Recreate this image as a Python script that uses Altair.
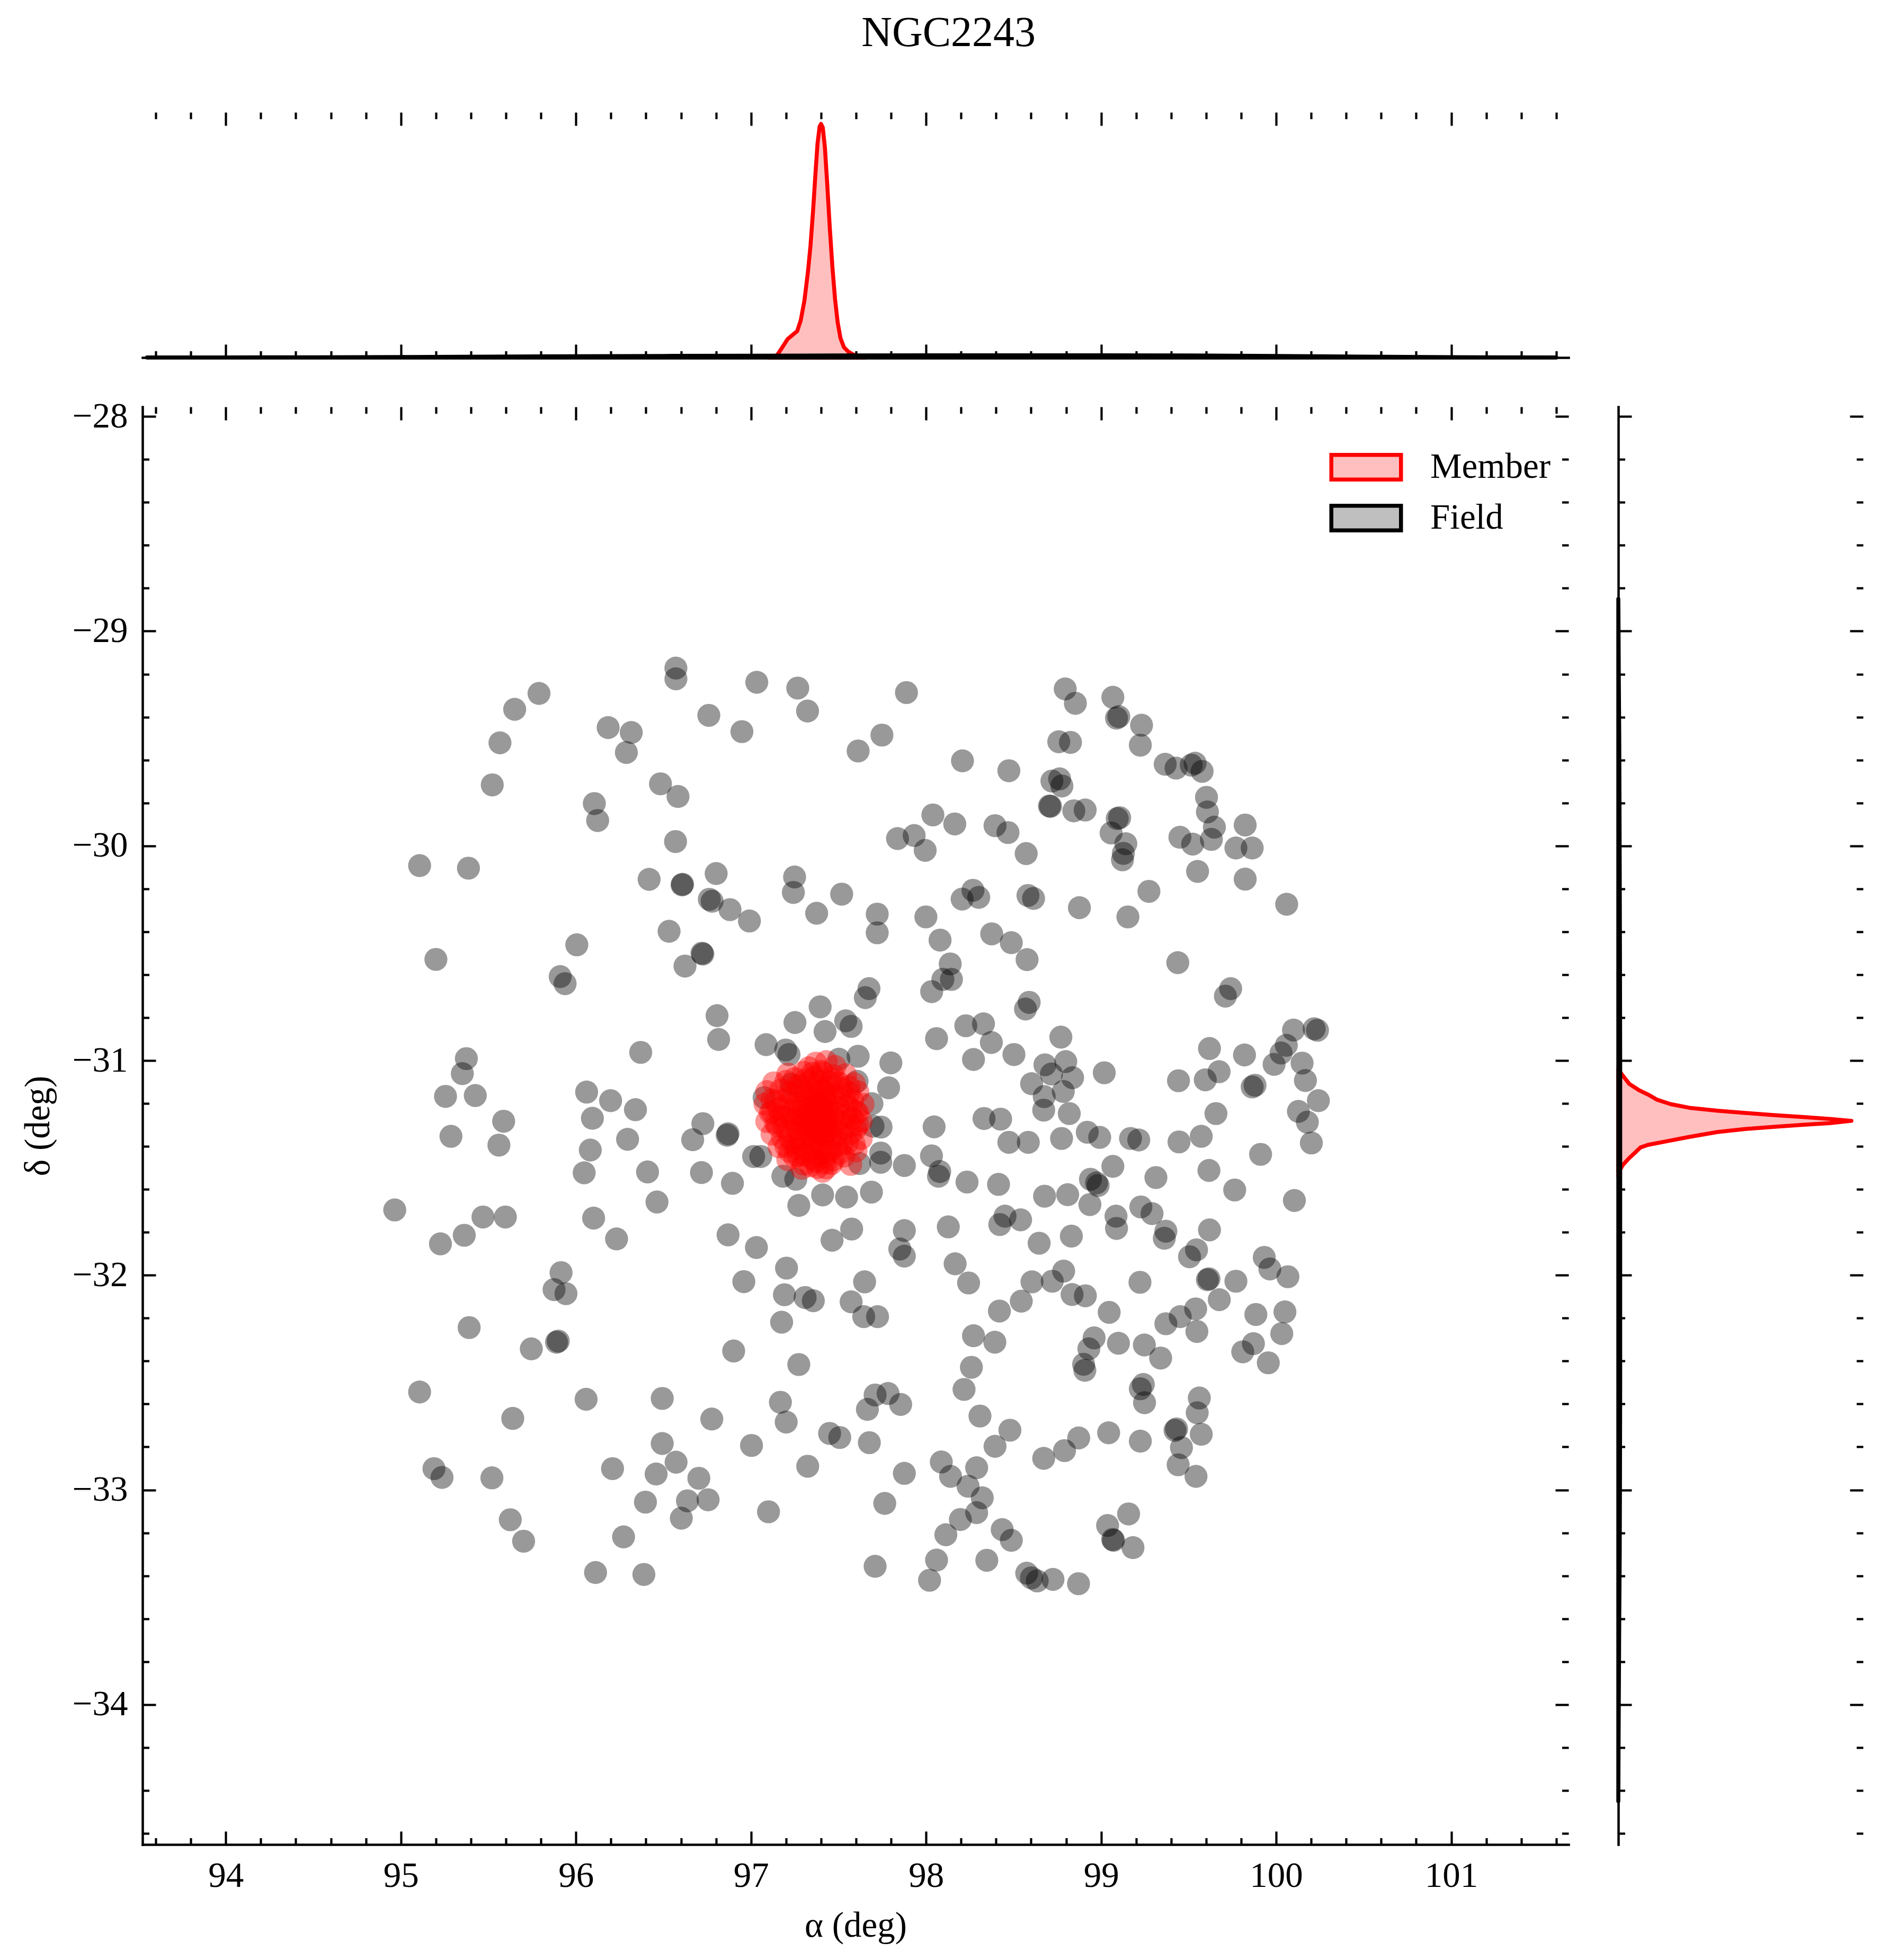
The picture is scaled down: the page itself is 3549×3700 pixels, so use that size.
import altair as alt
import pandas as pd

FONT = "Liberation Serif"
FS = 67

# ---------------- data ----------------
field_ra = [96.571, 96.571, 97.033, 97.267, 97.323, 95.789, 95.650, 95.566, 95.522, 96.184, 96.316, 96.288,
            96.759, 96.948, 96.483, 96.583, 96.105, 96.124, 96.569, 95.107, 95.386, 96.418, 96.609, 96.606,
            96.801, 96.762, 96.778, 96.880, 96.991, 97.249, 97.242, 97.375, 97.518, 96.532, 96.720, 96.725,
            96.623, 96.005, 95.910, 95.938, 95.200, 96.806, 96.815, 96.370, 97.395, 97.251, 97.423, 97.541,
            97.572, 97.086, 97.198, 97.217, 97.502, 95.374, 95.351, 95.255, 95.425, 95.587, 96.061, 96.198,
            96.094, 96.340, 96.725, 97.075,
            97.888, 97.748, 97.612, 98.795, 98.853, 99.067, 99.088, 99.101, 99.231, 99.224, 98.758, 98.825,
            98.208, 98.473, 99.366, 99.428, 99.515, 99.537, 99.577, 98.719, 98.763, 98.776, 98.711, 98.705,
            98.844, 98.909, 99.602, 99.607, 99.647, 99.630, 99.450, 99.523, 99.823, 99.770, 99.863, 99.551,
            99.823, 100.060, 99.106, 99.092, 99.057, 99.141, 99.127, 99.122, 99.273, 99.153, 98.876, 98.039,
            98.164, 97.837, 97.932, 97.995, 98.394, 98.468, 98.572, 98.268, 98.301, 98.206, 98.582, 98.614,
            97.721, 97.721, 97.999, 98.080, 98.375, 98.487, 98.577, 98.138, 98.096, 98.145, 98.032, 99.438,
            99.740, 99.710, 97.674, 97.653, 98.589, 98.568, 97.612, 98.227, 98.328, 98.373, 98.060, 98.271,
            98.502, 98.770, 98.679, 98.798, 98.837, 98.716, 98.784, 98.675, 98.603, 98.818, 98.672, 99.018,
            97.799, 97.786, 97.691, 99.619, 99.819, 99.674, 99.595, 99.442, 100.099, 100.217, 100.236, 100.058,
            100.028, 99.988, 100.148, 100.167, 99.863, 99.879, 100.241, 100.127, 100.178, 99.656, 98.331, 98.426,
            98.046, 97.743, 97.697,
            95.286, 95.560, 96.082, 96.295, 96.047, 96.409, 96.667, 96.864, 96.869, 96.717, 96.894, 97.015,
            97.056, 97.182, 97.256, 97.409, 97.273, 97.546, 96.463, 96.101, 96.232, 94.965, 95.469, 95.597,
            95.362, 95.226, 96.869, 97.031, 97.203, 96.959, 97.463, 97.575, 95.915, 95.875, 95.943, 97.191,
            97.309, 97.356, 97.572, 97.175, 95.390, 95.745, 95.899, 95.889, 96.901, 97.273, 95.107, 95.639,
            96.058, 96.493, 96.776, 97.168, 97.201, 97.449, 97.507, 96.493, 96.572, 96.458, 96.702, 97.003,
            97.324, 95.189, 95.235, 95.520, 96.209, 96.397, 96.637, 96.755, 96.602, 97.100, 95.625, 95.701,
            96.272, 96.112, 96.388,
            98.473, 98.584, 98.774, 98.921, 98.992, 99.168, 99.215, 99.445, 99.572, 99.911, 100.201, 97.741,
            97.741, 97.688, 97.876, 98.031, 98.078, 98.071, 98.234, 98.414, 98.677, 98.809, 98.939, 98.974,
            98.983, 99.067, 99.313, 99.616, 99.763, 100.104, 98.936, 99.085, 99.088, 99.227, 99.291, 99.370,
            99.361, 99.619, 99.545, 99.505, 99.932, 99.964, 100.067, 99.616, 99.607, 99.770, 99.675, 99.540,
            99.452, 99.370, 99.547, 99.884, 100.050, 100.032, 99.870, 99.809, 99.955, 99.222, 99.046, 98.960,
            98.930, 98.900, 98.907, 99.099, 99.247, 99.340, 98.540, 98.451, 98.421, 98.646, 98.830, 98.605,
            98.721, 98.786, 98.834, 98.910, 98.544, 98.419, 98.166, 98.243, 97.876, 97.850, 97.876, 98.127,
            97.649, 97.644, 97.723, 98.271, 98.393, 98.259, 98.217, 98.308, 98.479, 98.394, 97.709, 97.783,
            97.665, 97.855, 97.676, 97.876, 97.764, 98.087, 98.140, 98.289, 98.240, 98.321, 98.289, 98.196,
            98.113, 98.060, 98.020, 97.709, 98.347, 98.435, 98.487, 98.575, 98.602, 98.635, 98.725, 98.871,
            98.672, 98.791, 98.872, 99.043, 99.224, 99.241, 99.224, 99.248, 99.561, 99.549, 99.572, 99.422,
            99.431, 99.459, 99.440, 99.542, 99.157, 99.037, 99.071, 99.066, 99.182,
            97.606, 97.620, 97.230]
field_dec = [-29.172, -29.222, -29.238, -29.265, -29.372, -29.290, -29.364, -29.520, -29.716, -29.449, -29.472, -29.565,
             -29.392, -29.468, -29.711, -29.770, -29.803, -29.882, -29.980, -30.092, -30.104, -30.156, -30.179, -30.182,
             -30.129, -30.249, -30.258, -30.297, -30.350, -30.145, -30.217, -30.314, -30.225, -30.398, -30.500, -30.504,
             -30.560, -30.461, -30.609, -30.642, -30.529, -30.791, -30.902, -30.962, -30.750, -30.823, -30.865, -30.815,
             -30.841, -30.926, -30.951, -30.972, -30.994, -30.991, -31.061, -31.167, -31.163, -31.283, -31.147, -31.187,
             -31.269, -31.229, -31.294, -31.173,
             -29.286, -29.484, -29.558, -29.269, -29.336, -29.308, -29.405, -29.398, -29.438, -29.531, -29.515, -29.518,
             -29.604, -29.650, -29.620, -29.638, -29.624, -29.615, -29.653, -29.698, -29.688, -29.721, -29.816, -29.814,
             -29.837, -29.833, -29.774, -29.842, -29.913, -29.970, -29.960, -29.992, -29.903, -30.010, -30.010, -30.119,
             -30.155, -30.272, -29.869, -29.873, -29.940, -29.990, -30.035, -30.065, -30.212, -30.331, -30.288, -29.856,
             -29.898, -29.966, -29.952, -30.021, -29.906, -29.938, -30.036, -30.207, -30.240, -30.248, -30.231, -30.245,
             -30.318, -30.405, -30.331, -30.439, -30.410, -30.451, -30.530, -30.550, -30.622, -30.622, -30.679, -30.544,
             -30.665, -30.700, -30.665, -30.707, -30.729, -30.760, -30.980, -30.838, -30.829, -30.916, -30.898, -30.995,
             -30.972, -30.891, -31.020, -31.005, -31.080, -31.063, -31.144, -31.168, -31.108, -31.247, -31.231, -31.057,
             -31.011, -31.127, -31.201, -30.944, -30.974, -31.052, -31.090, -31.094, -30.858, -30.852, -30.859, -30.929,
             -30.965, -31.018, -31.012, -31.093, -31.123, -31.115, -31.187, -31.237, -31.287, -31.247, -31.270, -31.273,
             -31.309, -31.310, -31.306,
             -31.353, -31.394, -31.417, -31.367, -31.523, -31.519, -31.369, -31.348, -31.341, -31.522, -31.572, -31.447,
             -31.447, -31.539, -31.553, -31.626, -31.675, -31.636, -31.659, -31.734, -31.831, -31.696, -31.729, -31.729,
             -31.814, -31.854, -31.812, -31.871, -31.967, -32.030, -31.837, -31.785, -31.988, -32.067, -32.086, -32.091,
             -32.104, -32.119, -32.124, -32.219, -32.244, -32.343, -32.307, -32.312, -32.353, -32.416, -32.544, -32.667,
             -32.578, -32.574, -32.670, -32.592, -32.684, -32.737, -32.756, -32.784, -32.871, -32.926, -32.946, -32.793,
             -32.890, -32.901, -32.942, -32.944, -32.901, -33.057, -33.051, -33.046, -33.132, -33.102, -33.139, -33.239,
             -33.219, -33.385, -33.394,
             -31.381, -31.381, -31.363, -31.334, -31.358, -31.363, -31.370, -31.379, -31.353, -31.437, -31.384, -31.431,
             -31.474, -31.613, -31.489, -31.444, -31.517, -31.539, -31.566, -31.577, -31.632, -31.625, -31.553, -31.570,
             -31.582, -31.493, -31.545, -31.512, -31.603, -31.652, -31.671, -31.725, -31.782, -31.682, -31.713, -31.795,
             -31.828, -31.789, -31.882, -31.914, -31.917, -31.971, -32.007, -32.017, -32.021, -32.028, -32.114, -32.157,
             -32.193, -32.226, -32.262, -32.183, -32.171, -32.272, -32.319, -32.357, -32.408, -32.033, -32.173, -32.292,
             -32.343, -32.415, -32.443, -32.317, -32.325, -32.386, -31.742, -31.725, -31.764, -31.851, -31.818, -32.031,
             -32.028, -31.981, -32.090, -32.096, -32.121, -32.167, -31.947, -32.036, -31.792, -31.878, -31.911, -31.775,
             -32.031, -32.193, -32.193, -32.282, -32.312, -32.429, -32.532, -32.656, -32.722, -32.797, -32.558, -32.551,
             -32.625, -32.602, -32.780, -32.923, -33.063, -32.870, -32.937, -32.897, -32.983, -33.037, -33.106, -33.138,
             -33.209, -33.327, -33.421, -33.356, -33.328, -33.185, -33.235, -33.388, -33.410, -33.424, -33.417, -33.437,
             -32.853, -32.817, -32.758, -32.734, -32.773, -32.509, -32.529, -32.594, -32.572, -32.641, -32.741, -32.723,
             -32.716, -32.803, -32.883, -32.937, -33.112, -33.166, -33.235, -33.231, -33.269,
             -31.097, -31.480, -31.110]

member_ra = [97.37, 97.43, 97.33, 97.48, 97.21, 97.30, 97.41, 97.54, 97.25, 97.36, 97.46,
             97.13, 97.20, 97.33, 97.39, 97.50, 97.59, 97.28, 97.44, 97.56,
             97.09, 97.17, 97.35, 97.41, 97.61, 97.24, 97.31, 97.38, 97.47, 97.53,
             97.12, 97.21, 97.36, 97.42, 97.58, 97.08, 97.27, 97.33, 97.39, 97.45, 97.64,
             97.16, 97.30, 97.37, 97.41, 97.50, 97.57, 97.11, 97.23, 97.34, 97.39, 97.44, 97.61,
             97.19, 97.28, 97.36, 97.40, 97.47, 97.54, 97.09, 97.25, 97.32, 97.38, 97.42, 97.63,
             97.15, 97.29, 97.35, 97.40, 97.49, 97.57, 97.21, 97.33, 97.37, 97.44, 97.60,
             97.12, 97.27, 97.39, 97.52, 97.18, 97.31, 97.36, 97.46, 97.63,
             97.24, 97.41, 97.55, 97.16, 97.29, 97.37, 97.49, 97.22, 97.33, 97.44, 97.60,
             97.27, 97.39, 97.53, 97.21, 97.35, 97.47, 97.30, 97.42, 97.57, 97.29, 97.38, 97.41,
             97.385, 97.402, 97.372, 97.413, 97.358, 97.392, 97.347, 97.428, 97.366, 97.418,
             97.26, 97.31, 97.38, 97.45, 97.52, 97.22, 97.29, 97.34, 97.43, 97.50, 97.56,
             97.19, 97.25, 97.32, 97.38, 97.43, 97.48, 97.55, 97.17, 97.23, 97.30, 97.35, 97.44, 97.50, 97.58,
             97.19, 97.26, 97.31, 97.38, 97.46, 97.53, 97.57, 97.22, 97.28, 97.34, 97.42, 97.48, 97.52,
             97.20, 97.26, 97.35, 97.40, 97.46, 97.51, 97.25, 97.31, 97.42, 97.37, 97.34, 97.46,
             97.14, 97.12, 97.14, 97.60, 97.61, 97.59, 97.40, 97.35, 97.47, 97.43]
member_dec = [-31.012, -31.005, -31.034, -31.027, -31.063, -31.055, -31.058, -31.066, -31.084, -31.079, -31.086,
              -31.104, -31.097, -31.101, -31.095, -31.103, -31.108, -31.118, -31.124, -31.121,
              -31.145, -31.137, -31.142, -31.139, -31.146, -31.158, -31.164, -31.161, -31.156, -31.163,
              -31.183, -31.177, -31.184, -31.179, -31.186, -31.203, -31.198, -31.205, -31.201, -31.196, -31.204,
              -31.224, -31.218, -31.222, -31.226, -31.219, -31.225, -31.243, -31.238, -31.245, -31.241, -31.236, -31.244,
              -31.262, -31.257, -31.264, -31.259, -31.263, -31.256, -31.284, -31.279, -31.285, -31.281, -31.276, -31.283,
              -31.303, -31.297, -31.305, -31.301, -31.296, -31.304, -31.324, -31.318, -31.322, -31.325, -31.317,
              -31.343, -31.338, -31.344, -31.341, -31.362, -31.357, -31.364, -31.359, -31.363,
              -31.383, -31.377, -31.384, -31.402, -31.398, -31.404, -31.399, -31.423, -31.418, -31.424, -31.421,
              -31.443, -31.438, -31.445, -31.462, -31.457, -31.463, -31.482, -31.477, -31.484, -31.502, -31.498, -31.516,
              -31.268, -31.288, -31.251, -31.232, -31.309, -31.331, -31.275, -31.305, -31.195, -31.352,
              -31.12, -31.09, -31.11, -31.10, -31.13, -31.15, -31.14, -31.17, -31.16, -31.17, -31.15,
              -31.21, -31.22, -31.23, -31.21, -31.20, -31.24, -31.21, -31.26, -31.27, -31.26, -31.27, -31.27, -31.28, -31.27,
              -31.31, -31.32, -31.30, -31.31, -31.31, -31.32, -31.34, -31.36, -31.37, -31.35, -31.34, -31.36, -31.39,
              -31.40, -31.41, -31.39, -31.41, -31.42, -31.43, -31.45, -31.44, -31.45, -31.47, -31.49, -31.48,
              -31.19, -31.24, -31.29, -31.24, -31.30, -31.39, -31.05, -31.06, -31.07, -31.50]

# marginal KDE curves (relative to the member peak)
top_member_ra = [97.10, 97.149, 97.179, 97.209, 97.239, 97.264, 97.284, 97.305, 97.325, 97.340, 97.355, 97.368,
                 97.380, 97.392, 97.400, 97.410, 97.422, 97.435, 97.450, 97.465, 97.480, 97.495, 97.511, 97.531,
                 97.556, 97.581, 97.611, 97.65]
top_member_h = [0.0, 0.010, 0.044, 0.079, 0.098, 0.113, 0.159, 0.243, 0.365, 0.480, 0.633, 0.786,
                0.916, 0.989, 1.0, 0.985, 0.901, 0.748, 0.557, 0.388, 0.251, 0.151, 0.083, 0.044,
                0.025, 0.014, 0.005, 0.0]
top_field_ra = [93.55, 94.0, 94.5, 95.0, 95.5, 96.0, 96.5, 97.0, 97.5, 98.0, 98.5, 99.0, 99.5, 100.0, 100.5, 101.0, 101.6]
top_field_h = [0.0003, 0.0006, 0.0012, 0.0025, 0.004, 0.0055, 0.007, 0.008, 0.009, 0.0095, 0.0095, 0.0095,
               0.009, 0.007, 0.004, 0.0015, 0.0003]
right_member_dec = [-31.04, -31.063, -31.109, -31.137, -31.158, -31.183, -31.203, -31.220, -31.234, -31.244,
                    -31.254, -31.263, -31.272, -31.281, -31.292, -31.300, -31.309, -31.319, -31.333, -31.356,
                    -31.376, -31.393, -31.405, -31.430, -31.454, -31.487, -31.512, -31.54]
right_member_h = [0.0, 0.014, 0.047, 0.087, 0.127, 0.167, 0.224, 0.304, 0.425, 0.545,
                  0.666, 0.787, 0.907, 1.0, 0.907, 0.787, 0.666, 0.545, 0.425, 0.304,
                  0.208, 0.127, 0.095, 0.071, 0.047, 0.019, 0.006, 0.0]
right_field_dec = [-28.85, -29.0, -29.2, -29.5, -29.8, -30.1, -30.5, -31.0, -31.5, -32.0, -32.5, -33.0,
                   -33.3, -33.6, -33.9, -34.2, -34.45]
right_field_h = [0.0, 0.001, 0.002, 0.004, 0.005, 0.006, 0.007, 0.008, 0.008, 0.008, 0.008, 0.007,
                 0.006, 0.004, 0.0025, 0.001, 0.0]

groups = ["Member", "Field"]
x_major = [94, 95, 96, 97, 98, 99, 100, 101]
x_minor = [93.6, 93.8, 94.2, 94.4, 94.6, 94.8, 95.2, 95.4, 95.6, 95.8, 96.2, 96.4, 96.6, 96.8,
           97.2, 97.4, 97.6, 97.8, 98.2, 98.4, 98.6, 98.8, 99.2, 99.4, 99.6, 99.8,
           100.2, 100.4, 100.6, 100.8, 101.2, 101.4, 101.6]
y_major = [-34, -33, -32, -31, -30, -29, -28]
y_minor = [-28.2, -28.4, -28.6, -28.8, -29.2, -29.4, -29.6, -29.8, -30.2, -30.4, -30.6, -30.8,
           -31.2, -31.4, -31.6, -31.8, -32.2, -32.4, -32.6, -32.8, -33.2, -33.4, -33.6, -33.8,
           -34.2, -34.4, -34.6]

# ---------------- layout / style ----------------
W, H, TH, RW = 2692, 2714, 463, 462
MAJ, MIN = 25, 12.5
X_DOMAIN = [93.524, 101.67]
Y_DOMAIN = [-34.652, -27.955]
D_DOMAIN = [0, 1.05]

field_df = pd.DataFrame({"ra": field_ra, "dec": field_dec})
member_df = pd.DataFrame({"ra": member_ra, "dec": member_dec})
topF = pd.DataFrame({"ra": top_field_ra, "dens": top_field_h, "group": "Field"})
topM = pd.DataFrame({"ra": top_member_ra, "dens": top_member_h, "group": "Member"})
rightF = pd.DataFrame({"dec": right_field_dec, "dens": right_field_h, "group": "Field"})
rightM = pd.DataFrame({"dec": right_member_dec, "dens": right_member_h, "group": "Member"})

xs = alt.Scale(domain=X_DOMAIN, nice=False, zero=False)
ys = alt.Scale(domain=Y_DOMAIN, nice=False, zero=False)
ds = alt.Scale(domain=D_DOMAIN, nice=False, zero=True)
fill_scale = alt.Scale(domain=groups, range=["#ffbfbf", "#bfbfbf"])
stroke_scale = alt.Scale(domain=groups, range=["#ff0000", "#000000"])


def tick_axis(orient, values, size):
    return alt.Axis(orient=orient, values=values, tickSize=size, offset=-size, domain=False,
                    labels=False, ticks=True, grid=False, title=None)


def domain_axis(orient):
    return alt.Axis(orient=orient, domain=True, ticks=False, labels=False, grid=False, title=None)


x_main = alt.Axis(orient="bottom", values=x_major, tickSize=MAJ, offset=-MAJ, domain=False, labels=True,
                  labelPadding=26, format="d", title="α (deg)", titlePadding=28, grid=False,
                  labelFont=FONT, labelFontSize=FS, titleFont=FONT, titleFontSize=FS,
                  labelColor="black", titleColor="black", titleFontWeight="normal")
y_main = alt.Axis(orient="left", values=y_major, tickSize=MAJ, offset=-MAJ, domain=False, labels=True,
                  labelPadding=28, format="d", title="δ (deg)", titlePadding=30, grid=False,
                  labelFont=FONT, labelFontSize=FS, titleFont=FONT, titleFontSize=FS,
                  labelColor="black", titleColor="black", titleFontWeight="normal")

# ---- main scatter panel ----
m_field = alt.Chart(field_df).mark_circle(size=1886, opacity=0.4, color="#000000").encode(
    x=alt.X("ra:Q", scale=xs, axis=x_main), y=alt.Y("dec:Q", scale=ys, axis=y_main))
m_member = alt.Chart(member_df).mark_circle(size=1886, opacity=0.42, color="#ff0000").encode(
    x=alt.X("ra:Q", scale=xs, axis=tick_axis("bottom", x_minor, MIN)),
    y=alt.Y("dec:Q", scale=ys, axis=tick_axis("left", y_minor, MIN)))
m_d1 = alt.Chart(field_df).mark_point(opacity=0).encode(
    x=alt.X("ra:Q", scale=xs, axis=tick_axis("top", x_major, MAJ)),
    y=alt.Y("dec:Q", scale=ys, axis=tick_axis("right", y_major, MAJ)))
m_d2 = alt.Chart(field_df).mark_point(opacity=0).encode(
    x=alt.X("ra:Q", scale=xs, axis=tick_axis("top", x_minor, MIN)),
    y=alt.Y("dec:Q", scale=ys, axis=tick_axis("right", y_minor, MIN)))
m_d3 = alt.Chart(field_df).mark_point(opacity=0).encode(
    x=alt.X("ra:Q", scale=xs, axis=domain_axis("bottom")),
    y=alt.Y("dec:Q", scale=ys, axis=domain_axis("left")))
main = alt.layer(m_field, m_member, m_d1, m_d2, m_d3).resolve_axis(
    x="independent", y="independent").properties(width=W, height=H)

# ---- top marginal (RA density) ----
legend = alt.Legend(orient="none", legendX=2262, legendY=622, title=None,
                    symbolType="M-1.494,-0.528L1.494,-0.528L1.494,0.528L-1.494,0.528Z",
                    symbolSize=7744, symbolStrokeWidth=7.5, labelFont=FONT, labelFontSize=FS,
                    labelColor="black", labelOffset=73, labelLimit=0, rowPadding=9, padding=0)
t_member = alt.Chart(topM).mark_area(opacity=1, strokeWidth=7.5, strokeJoin="round").encode(
    x=alt.X("ra:Q", scale=xs, axis=tick_axis("bottom", x_minor, MIN)),
    y=alt.Y("dens:Q", scale=ds, axis=None, stack=None),
    fill=alt.Fill("group:N", scale=fill_scale, legend=legend),
    stroke=alt.Stroke("group:N", scale=stroke_scale, legend=legend))
t_field = alt.Chart(topF).mark_area(opacity=1, strokeWidth=7.5, strokeJoin="round").encode(
    x=alt.X("ra:Q", scale=xs, axis=tick_axis("bottom", x_major, MAJ)),
    y=alt.Y("dens:Q", scale=ds, axis=None, stack=None),
    fill=alt.Fill("group:N", scale=fill_scale, legend=legend),
    stroke=alt.Stroke("group:N", scale=stroke_scale, legend=legend))
t_d1 = alt.Chart(topF).mark_point(opacity=0).encode(
    x=alt.X("ra:Q", scale=xs, axis=tick_axis("top", x_major, MAJ)),
    y=alt.Y("dens:Q", scale=ds, axis=None))
t_d2 = alt.Chart(topF).mark_point(opacity=0).encode(
    x=alt.X("ra:Q", scale=xs, axis=tick_axis("top", x_minor, MIN)),
    y=alt.Y("dens:Q", scale=ds, axis=None))
t_d3 = alt.Chart(topF).mark_point(opacity=0).encode(
    x=alt.X("ra:Q", scale=xs, axis=domain_axis("bottom")),
    y=alt.Y("dens:Q", scale=ds, axis=None))
top = alt.layer(t_member, t_field, t_d1, t_d2, t_d3).resolve_axis(
    x="independent", y="independent").properties(width=W, height=TH)

# ---- right marginal (Dec density) ----
r_member = alt.Chart(rightM).mark_area(opacity=1, strokeWidth=7.5, strokeJoin="round", orient="horizontal").encode(
    y=alt.Y("dec:Q", scale=ys, axis=tick_axis("left", y_minor, MIN)),
    x=alt.X("dens:Q", scale=ds, axis=None, stack=None),
    fill=alt.Fill("group:N", scale=fill_scale, legend=None),
    stroke=alt.Stroke("group:N", scale=stroke_scale, legend=None))
r_field = alt.Chart(rightF).mark_area(opacity=1, strokeWidth=7.5, strokeJoin="round", orient="horizontal").encode(
    y=alt.Y("dec:Q", scale=ys, axis=tick_axis("left", y_major, MAJ)),
    x=alt.X("dens:Q", scale=ds, axis=None, stack=None),
    fill=alt.Fill("group:N", scale=fill_scale, legend=None),
    stroke=alt.Stroke("group:N", scale=stroke_scale, legend=None))
r_d1 = alt.Chart(rightF).mark_point(opacity=0).encode(
    y=alt.Y("dec:Q", scale=ys, axis=tick_axis("right", y_major, MAJ)),
    x=alt.X("dens:Q", scale=ds, axis=None))
r_d2 = alt.Chart(rightF).mark_point(opacity=0).encode(
    y=alt.Y("dec:Q", scale=ys, axis=tick_axis("right", y_minor, MIN)),
    x=alt.X("dens:Q", scale=ds, axis=None))
r_d3 = alt.Chart(rightF).mark_point(opacity=0).encode(
    y=alt.Y("dec:Q", scale=ys, axis=domain_axis("left")),
    x=alt.X("dens:Q", scale=ds, axis=None))
right = alt.layer(r_member, r_field, r_d1, r_d2, r_d3).resolve_axis(
    x="independent", y="independent").properties(width=RW, height=H)

row2 = alt.hconcat(main, right, spacing=94, bounds="flush").resolve_scale(
    fill="independent", stroke="independent")

chart = alt.vconcat(top, row2, spacing=93, bounds="flush").resolve_scale(
    fill="independent", stroke="independent").properties(
    title=alt.TitleParams("NGC2243", font=FONT, fontSize=80, fontWeight="normal", color="black",
                          anchor="middle", offset=106, dx=12),
    padding={"left": 30, "top": 14, "right": 5, "bottom": 10},
).configure_view(stroke=None).configure_axis(
    labelFont=FONT, titleFont=FONT, labelFontSize=FS, titleFontSize=FS, labelColor="black",
    titleColor="black", tickColor="black", domainColor="black", tickWidth=4.2, domainWidth=4.5,
    titleFontWeight="normal", domainCap="square", zindex=1, labelLimit=400,
)

chart.save("out.html", embed_options={"renderer": "svg", "actions": False})
